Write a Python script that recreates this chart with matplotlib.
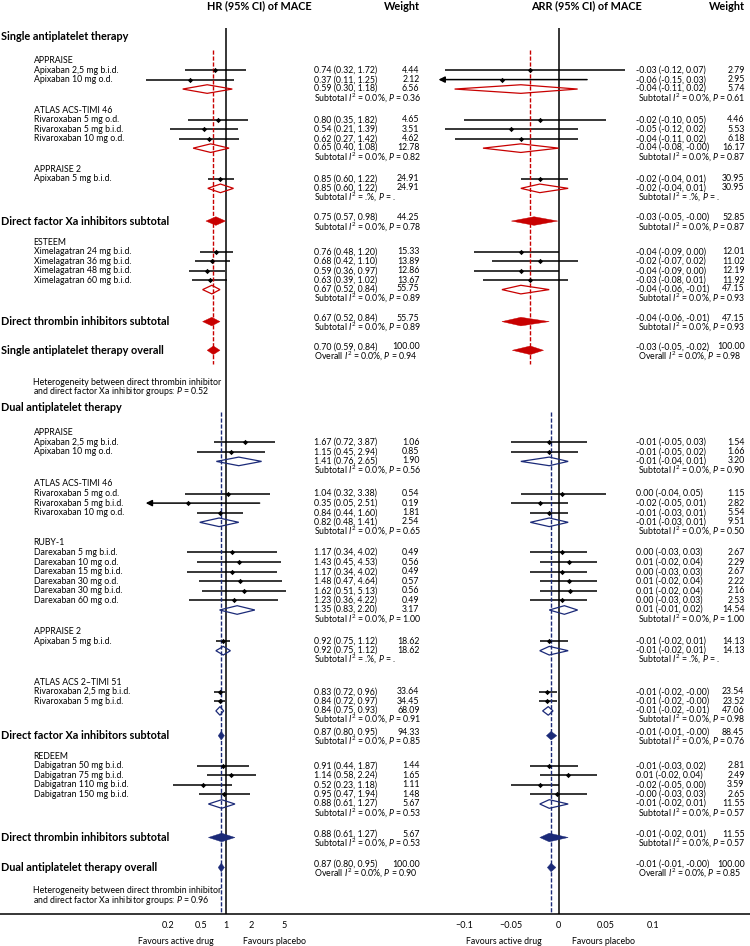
import matplotlib.pyplot as plt

plt.rcParams['font.family'] = ['Lato', 'DejaVu Sans']
plt.rcParams['mathtext.fontset'] = 'custom'
plt.rcParams['mathtext.rm'] = 'Lato'
plt.rcParams['mathtext.it'] = 'Lato:italic'
plt.rcParams['mathtext.bf'] = 'Lato:bold'

# every row is [estimate, lower, upper, weight]; the last row of a study is its pooled result
# het entries are [I2, P] as printed ("." = not estimable)

# --- single antiplatelet therapy ---
sapt_xa = [
    ("APPRAISE", ["Apixaban 2,5 mg b.i.d.", "Apixaban 10 mg o.d."],
     [[0.74, 0.32, 1.72, 4.44], [0.37, 0.11, 1.25, 2.12], [0.59, 0.30, 1.18, 6.56]],
     [[-0.03, -0.12, 0.07, 2.79], [-0.06, -0.15, 0.03, 2.95], [-0.04, -0.11, 0.02, 5.74]],
     ["0.0", "0.36"], ["0.0", "0.61"]),
    ("ATLAS ACS-TIMI 46", ["Rivaroxaban 5 mg o.d.", "Rivaroxaban 5 mg b.i.d.", "Rivaroxaban 10 mg o.d."],
     [[0.80, 0.35, 1.82, 4.65], [0.54, 0.21, 1.39, 3.51], [0.62, 0.27, 1.42, 4.62], [0.65, 0.40, 1.08, 12.78]],
     [[-0.02, -0.10, 0.05, 4.46], [-0.05, -0.12, 0.02, 5.53], [-0.04, -0.11, 0.02, 6.18], [-0.04, -0.08, -0.0, 16.17]],
     ["0.0", "0.82"], ["0.0", "0.87"]),
    ("APPRAISE 2", ["Apixaban 5 mg b.i.d."],
     [[0.85, 0.60, 1.22, 24.91], [0.85, 0.60, 1.22, 24.91]],
     [[-0.02, -0.04, 0.01, 30.95], [-0.02, -0.04, 0.01, 30.95]],
     [".", "."], [".", "."]),
]
sapt_xa_sub = ([0.75, 0.57, 0.98, 44.25], [-0.026, -0.05, -0.001, 52.85], ["0.0", "0.78"], ["0.0", "0.87"])
sapt_dti = [
    ("ESTEEM", ["Ximelagatran 24 mg b.i.d.", "Ximelagatran 36 mg b.i.d.", "Ximelagatran 48 mg b.i.d.",
                "Ximelagatran 60 mg b.i.d."],
     [[0.76, 0.48, 1.20, 15.33], [0.68, 0.42, 1.10, 13.89], [0.59, 0.36, 0.97, 12.86],
      [0.63, 0.39, 1.02, 13.67], [0.67, 0.52, 0.84, 55.75]],
     [[-0.04, -0.09, 0.00, 12.01], [-0.02, -0.07, 0.02, 11.02], [-0.04, -0.09, 0.00, 12.19],
      [-0.03, -0.08, 0.01, 11.92], [-0.04, -0.06, -0.01, 47.15]],
     ["0.0", "0.89"], ["0.0", "0.93"]),
]
sapt_dti_sub = ([0.67, 0.52, 0.84, 55.75], [-0.04, -0.06, -0.01, 47.15], ["0.0", "0.89"], ["0.0", "0.93"])
sapt_overall = ([0.70, 0.59, 0.84, 100.00], [-0.03, -0.049, -0.016, 100.00], ["0.0", "0.94"], ["0.0", "0.98"])
sapt_between_p = "0.52"

# --- dual antiplatelet therapy ---
dapt_xa = [
    ("APPRAISE", ["Apixaban 2,5 mg b.i.d.", "Apixaban 10 mg o.d."],
     [[1.67, 0.72, 3.87, 1.06], [1.15, 0.45, 2.94, 0.85], [1.41, 0.76, 2.65, 1.90]],
     [[-0.01, -0.05, 0.03, 1.54], [-0.01, -0.05, 0.02, 1.66], [-0.01, -0.04, 0.01, 3.20]],
     ["0.0", "0.56"], ["0.0", "0.90"]),
    ("ATLAS ACS-TIMI 46", ["Rivaroxaban 5 mg o.d.", "Rivaroxaban 5 mg b.i.d.", "Rivaroxaban 10 mg o.d."],
     [[1.04, 0.32, 3.38, 0.54], [0.35, 0.05, 2.51, 0.19], [0.84, 0.44, 1.60, 1.81], [0.82, 0.48, 1.41, 2.54]],
     [[0.003, -0.04, 0.05, 1.15], [-0.02, -0.05, 0.01, 2.82], [-0.01, -0.03, 0.01, 5.54], [-0.01, -0.03, 0.01, 9.51]],
     ["0.0", "0.65"], ["0.0", "0.50"]),
    ("RUBY-1", ["Darexaban 5 mg b.i.d.", "Darexaban 10 mg o.d.", "Darexaban 15 mg b.i.d.",
                "Darexaban 30 mg o.d.", "Darexaban 30 mg b.i.d.", "Darexaban 60 mg o.d."],
     [[1.17, 0.34, 4.02, 0.49], [1.43, 0.45, 4.53, 0.56], [1.17, 0.34, 4.02, 0.49], [1.48, 0.47, 4.64, 0.57],
      [1.62, 0.51, 5.13, 0.56], [1.23, 0.36, 4.22, 0.49], [1.35, 0.83, 2.20, 3.17]],
     [[0.004, -0.03, 0.03, 2.67], [0.011, -0.02, 0.04, 2.29], [0.004, -0.03, 0.03, 2.67], [0.011, -0.02, 0.04, 2.22],
      [0.012, -0.02, 0.04, 2.16], [0.004, -0.03, 0.03, 2.53], [0.006, -0.01, 0.02, 14.54]],
     ["0.0", "1.00"], ["0.0", "1.00"]),
    ("APPRAISE 2", ["Apixaban 5 mg b.i.d."],
     [[0.92, 0.75, 1.12, 18.62], [0.92, 0.75, 1.12, 18.62]],
     [[-0.01, -0.02, 0.01, 14.13], [-0.01, -0.02, 0.01, 14.13]],
     [".", "."], [".", "."]),
    ("ATLAS ACS 2–TIMI 51", ["Rivaroxaban 2,5 mg b.i.d.", "Rivaroxaban 5 mg b.i.d."],
     [[0.83, 0.72, 0.96, 33.64], [0.84, 0.72, 0.97, 34.45], [0.84, 0.75, 0.93, 68.09]],
     [[-0.012, -0.021, -0.002, 23.54], [-0.012, -0.021, -0.002, 23.52], [-0.011, -0.017, -0.006, 47.06]],
     ["0.0", "0.91"], ["0.0", "0.98"]),
]
dapt_xa_sub = ([0.87, 0.80, 0.95, 94.33], [-0.008, -0.013, -0.002, 88.45], ["0.0", "0.85"], ["0.0", "0.76"])
dapt_dti = [
    ("REDEEM", ["Dabigatran 50 mg b.i.d.", "Dabigatran 75 mg b.i.d.", "Dabigatran 110 mg b.i.d.",
                "Dabigatran 150 mg b.i.d."],
     [[0.91, 0.44, 1.87, 1.44], [1.14, 0.58, 2.24, 1.65], [0.52, 0.23, 1.18, 1.11],
      [0.95, 0.47, 1.94, 1.48], [0.88, 0.61, 1.27, 5.67]],
     [[-0.01, -0.03, 0.02, 2.81], [0.01, -0.02, 0.04, 2.49], [-0.02, -0.05, 0.00, 3.59],
      [-0.002, -0.03, 0.03, 2.65], [-0.01, -0.02, 0.01, 11.55]],
     ["0.0", "0.53"], ["0.0", "0.57"]),
]
dapt_dti_sub = ([0.88, 0.61, 1.27, 5.67], [-0.01, -0.02, 0.01, 11.55], ["0.0", "0.53"], ["0.0", "0.57"])
dapt_overall = ([0.87, 0.80, 0.95, 100.00], [-0.008, -0.012, -0.003, 100.00], ["0.0", "0.90"], ["0.0", "0.85"])
dapt_between_p = "0.96"

hr_ticks = [0.2, 0.5, 1, 2, 5]
hr_ticklabels = ["0.2", "0.5", "1", "2", "5"]
arr_ticks = [-0.1, -0.05, 0, 0.05, 0.1]
arr_ticklabels = ["\u22120.1", "\u22120.05", "0", "0.05", "0.1"]

RED = "#c80000"
BLUE = "#1b2a78"

W, H = 750, 946
AXIS_Y = 914.3
SMALL = 6.3
BIG = 7.8
HALF = 4.3

fig = plt.figure(figsize=(7.5, 9.46), dpi=100)

tx = fig.add_axes([0, 0, 1, 1])
tx.set_xlim(0, W)
tx.set_ylim(H, 0)
tx.axis('off')


def px_axes(x0, x1):
    return fig.add_axes([x0 / W, (H - AXIS_Y) / H, (x1 - x0) / W, AXIS_Y / H])


ax_hr = px_axes(145.7, 306.9)
ax_hr.set_xscale('log')
ax_hr.set_xlim(0.108, 1 / 0.108)
ax_arr = px_axes(438.5, 678.9)
ax_arr.set_xlim(-0.127, 0.127)
for ax in (ax_hr, ax_arr):
    ax.set_ylim(AXIS_Y, 0)
    for s in ax.spines.values():
        s.set_visible(False)
    ax.set_yticks([])
    ax.patch.set_alpha(0)
    ax.minorticks_off()
    ax.tick_params(axis='x', length=0, pad=5, labelsize=6.6)
ax_hr.set_xticks(hr_ticks, hr_ticklabels)
ax_arr.set_xticks(arr_ticks, arr_ticklabels)


def put(x, y, s, size=SMALL, ha='left', bold=False):
    tx.text(x, y, s, fontsize=size, ha=ha, va='center', fontweight='bold' if bold else 'normal')


def ci_text(r):
    return f"{r[0]:.2f} ({r[1]:.2f}, {r[2]:.2f})"


def het_text(word, het):
    return rf"{word} $I^2$ = {het[0]}%, $P$ = {het[1]}"


def values(y, hr, arr):
    put(313.5, y, ci_text(hr))
    put(419.5, y, f"{hr[3]:.2f}", ha='right')
    put(636, y, ci_text(arr))
    put(744.5, y, f"{arr[3]:.2f}", ha='right')


def study(y, label, hr, arr):
    put(33.5, y, label)
    for ax, r in ((ax_hr, hr), (ax_arr, arr)):
        lo = ax.get_xlim()[0]
        if r[1] < lo:
            ax.annotate("", xy=(lo, y), xytext=(r[2], y),
                        arrowprops=dict(arrowstyle='-|>,head_length=0.6,head_width=0.3',
                                        mutation_scale=6, color='black', lw=1.1,
                                        shrinkA=0, shrinkB=0))
        else:
            ax.plot([r[1], r[2]], [y, y], color='black', lw=1.1, solid_capstyle='butt')
        ax.plot(r[0], y, marker='D', ms=2.7, color='black', mew=0, zorder=4)
    values(y, hr, arr)


def diamond(y, hr, arr, colour, filled):
    for ax, r in ((ax_hr, hr), (ax_arr, arr)):
        ax.fill([r[1], r[0], r[2], r[0]], [y, y - HALF, y, y + HALF],
                facecolor=colour if filled else 'none', edgecolor=colour,
                lw=0.3 if filled else 0.9, zorder=3)


def group(y, grp, colour, step):
    title, labels, hr, arr, hr_het, arr_het = grp
    put(33.5, y, title)
    for i, lab in enumerate(labels):
        y += step
        study(y, lab, hr[i], arr[i])
    y += step
    diamond(y, hr[-1], arr[-1], colour, False)
    values(y - 0.6, hr[-1], arr[-1])
    put(313.5, y + 9, het_text("Subtotal", hr_het))
    put(638, y + 9, het_text("Subtotal", arr_het))
    return y


def pooled(y, label, block, word, colour):
    hr, arr, hr_het, arr_het = block
    put(1, y, label, size=BIG, bold=True)
    diamond(y, hr, arr, colour, True)
    values(y - 3.5, hr, arr)
    put(313.5, y + 6, het_text(word, hr_het))
    put(638, y + 6, het_text(word, arr_het))


def section(y, name, xa, xa_sub, dti, dti_sub, overall, between_p, colour, gaps):
    top = y
    step = gaps['step']
    put(1, y, name, size=BIG, bold=True)
    y += gaps['first']
    for i, grp in enumerate(xa):
        if i:
            y += gaps.get(grp[0], gaps['group'])
        y = group(y, grp, colour, step)
    y += gaps['xa_sub']
    pooled(y, "Direct factor Xa inhibitors subtotal", xa_sub, "Subtotal", colour)
    for grp in dti:
        y += gaps.get(grp[0], gaps['group'])
        y = group(y, grp, colour, step)
    y += gaps['dti_sub']
    pooled(y, "Direct thrombin inhibitors subtotal", dti_sub, "Subtotal", colour)
    y += gaps['overall']
    pooled(y, name + " overall", overall, "Overall", colour)
    end = gaps.get('dash_end', y + 14)
    for ax, r in ((ax_hr, overall[0]), (ax_arr, overall[1])):
        ax.vlines(r[0], top + gaps['dash_top'], end, colors=colour,
                  linestyles=(0, (3, 1.3)), lw=1, zorder=2)
    y += gaps['het']
    put(33, y, "Heterogeneity between direct thrombin inhibitor")
    y += 9.5
    put(33, y, rf"and direct factor Xa inhibitor groups: $P$ = {between_p}")
    return y


# reference lines at no effect
ax_hr.vlines(1, 27.7, AXIS_Y, colors='black', lw=1.1, zorder=2)
ax_arr.vlines(0, 27.7, AXIS_Y, colors='black', lw=1.1, zorder=2)

y = section(36.7, "Single antiplatelet therapy", sapt_xa, sapt_xa_sub, sapt_dti, sapt_dti_sub,
            sapt_overall, sapt_between_p, RED,
            {'step': 9.45, 'first': 24.0, 'group': 21.3, 'xa_sub': 32.7, 'ESTEEM': 21.3,
             'dti_sub': 32.0, 'overall': 28.7, 'het': 32.0, 'dash_top': 13.5})
section(y + 15.8, "Dual antiplatelet therapy", dapt_xa, dapt_xa_sub, dapt_dti, dapt_dti_sub,
        dapt_overall, dapt_between_p, BLUE,
        {'step': 9.6, 'first': 25.0, 'group': 21.5, 'ATLAS ACS-TIMI 46': 22.5, 'RUBY-1': 20.5,
         'ATLAS ACS 2–TIMI 51': 31.4, 'xa_sub': 24.8, 'REDEEM': 20.3,
         'dti_sub': 33.5, 'overall': 30.0, 'het': 23.0, 'dash_top': 4.7, 'dash_end': AXIS_Y})

# column headers
put(259, 6, "HR (95% CI) of MACE", size=BIG, ha='center', bold=True)
put(419.5, 6, "Weight", size=BIG, ha='right', bold=True)
put(586, 6, "ARR (95% CI) of MACE", size=BIG, ha='center', bold=True)
put(744.5, 6, "Weight", size=BIG, ha='right', bold=True)

# x axis line and direction labels
tx.axhline(AXIS_Y, color='black', lw=1.1)
put(176, 941.7, "Favours active drug", ha='center')
put(274.5, 941.7, "Favours placebo", ha='center')
put(503.5, 941.7, "Favours active drug", ha='center')
put(603.3, 941.7, "Favours placebo", ha='center')

fig.savefig("out.png", dpi=100)
